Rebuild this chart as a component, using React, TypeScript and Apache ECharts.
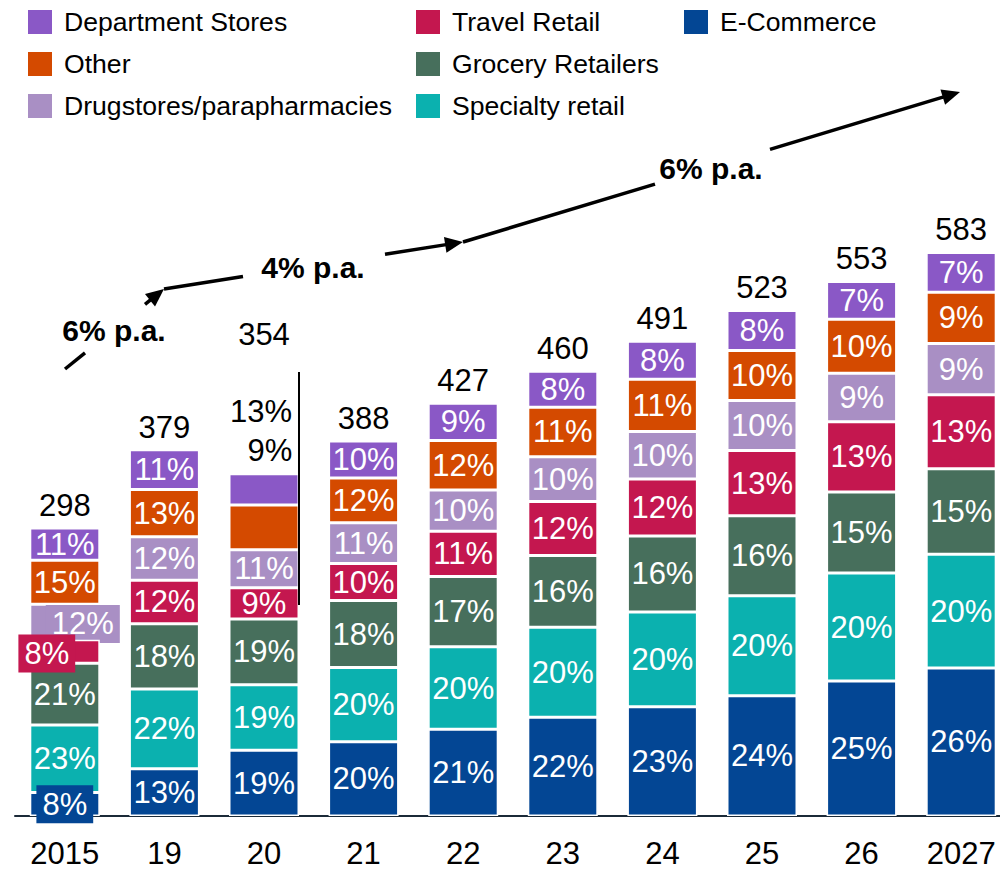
import React, { useEffect, useRef } from "react";
import * as echarts from "echarts";

const categories = ["2015", "19", "20", "21", "22", "23", "24", "25", "26", "2027"];
const totals = [298, 379, 354, 388, 427, 460, 491, 523, 553, 583];
// shares in % (bottom to top of each stack)
const eCommerce = [8, 13, 19, 20, 21, 22, 23, 24, 25, 26];
const specialty = [23, 22, 19, 20, 20, 20, 20, 20, 20, 20];
const grocery = [21, 18, 19, 18, 17, 16, 16, 16, 15, 15];
const travel = [8, 12, 9, 10, 11, 12, 12, 13, 13, 13];
const drugstores = [12, 12, 11, 11, 10, 10, 10, 10, 9, 9];
const other = [15, 13, 13, 12, 12, 11, 11, 10, 10, 9];
const department = [11, 11, 9, 10, 9, 8, 8, 8, 7, 7];

const FONT = "'Liberation Sans', Arial, Helvetica, sans-serif";

const seriesDefs = [
  { name: "E-Commerce", color: "#034694", pct: eCommerce },
  { name: "Specialty retail", color: "#0bb1af", pct: specialty },
  { name: "Grocery Retailers", color: "#476f5c", pct: grocery },
  { name: "Travel Retail", color: "#c4174f", pct: travel },
  { name: "Drugstores/parapharmacies", color: "#a98fc4", pct: drugstores },
  { name: "Other", color: "#d44a00", pct: other },
  { name: "Department Stores", color: "#8a58c6", pct: department },
];

const sumPct = categories.map((_, j) => seriesDefs.reduce((s, d) => s + d.pct[j], 0));

// annotation layout
const arrows = [
  { from: [65, 369], to: [164, 289], gap: [85, 145], text: "6% p.a.", at: [114, 330] },
  { from: [164, 289], to: [463, 242], gap: [243, 385], text: "4% p.a.", at: [313, 267] },
  { from: [463, 242], to: [960, 92], gap: [655, 770], text: "6% p.a.", at: [711, 168] },
];

function labelOverride(name: string, j: number, color: string): any {
  const box = { backgroundColor: color, padding: [3, 6, 4, 6] };
  if (j === 0 && name === "E-Commerce") return { ...box, offset: [0, 0] };
  if (j === 0 && name === "Travel Retail") return { ...box, offset: [-18, 2] };
  if (j === 0 && name === "Drugstores/parapharmacies") return { ...box, offset: [18, 2] };
  if (j === 2 && name === "Other") return { position: "top", color: "#000", offset: [-3, -73] };
  if (j === 2 && name === "Department Stores") return { position: "top", color: "#000", offset: [6, -3] };
  return null;
}

function buildGraphics(): any[] {
  const els: any[] = [];
  const ls = { stroke: "#000", lineWidth: 3.5 };
  arrows.forEach((a) => {
    const [x1, y1] = a.from;
    const [x2, y2] = a.to;
    const yAt = (x: number) => y1 + ((x - x1) / (x2 - x1)) * (y2 - y1);
    const dx = x2 - x1;
    const dy = y2 - y1;
    const L = Math.sqrt(dx * dx + dy * dy);
    const ux = dx / L;
    const uy = dy / L;
    const hl = 18;
    const hw = 8;
    const bx = x2 - ux * hl;
    const by = y2 - uy * hl;
    els.push({ type: "line", z: 100, shape: { x1, y1, x2: a.gap[0], y2: yAt(a.gap[0]) }, style: ls });
    els.push({ type: "line", z: 100, shape: { x1: a.gap[1], y1: yAt(a.gap[1]), x2: bx + ux, y2: by + uy }, style: ls });
    els.push({
      type: "polygon",
      z: 100,
      shape: {
        points: [
          [x2, y2],
          [bx - uy * hw, by + ux * hw],
          [bx + uy * hw, by - ux * hw],
        ],
      },
      style: { fill: "#000" },
    });
    els.push({
      type: "text",
      z: 100,
      x: a.at[0],
      y: a.at[1],
      style: {
        text: a.text,
        font: `bold 30px ${FONT}`,
        fill: "#000",
        align: "center",
        verticalAlign: "middle",
      },
    });
  });
  els.push({
    type: "line",
    z: 100,
    shape: { x1: 299, y1: 372, x2: 299, y2: 605 },
    style: { stroke: "#000", lineWidth: 2 },
  });
  return els;
}

export default function App() {
  const ref = useRef<HTMLDivElement>(null);
  useEffect(() => {
    if (!ref.current) return;
    const chart = echarts.init(ref.current, undefined, { renderer: "svg" });

    const stackSeries = seriesDefs.map((d) => ({
      name: d.name,
      type: "bar",
      stack: "total",
      barWidth: 70,
      barGap: "-100%",
      z: d.name === "Travel Retail" ? 4 : 2,
      itemStyle: { color: d.color, borderColor: "#fff", borderWidth: 1.5 },
      label: {
        show: true,
        position: "inside",
        color: "#fff",
        fontSize: 31,
        fontFamily: FONT,
        formatter: (p: any) => `${d.pct[p.dataIndex]}%`,
      },
      data: categories.map((_, j) => {
        const item: any = { value: (totals[j] * d.pct[j]) / sumPct[j] };
        const o = labelOverride(d.name, j, d.color);
        if (o) item.label = o;
        return item;
      }),
    }));

    const totalSeries = {
      name: "Total",
      type: "bar",
      barWidth: 70,
      barGap: "-100%",
      z: 1,
      silent: true,
      itemStyle: { color: "rgba(0,0,0,0)" },
      label: {
        show: true,
        position: "top",
        distance: 7,
        color: "#000",
        fontSize: 31,
        fontFamily: FONT,
      },
      data: totals.map((t, j) => (j === 2 ? { value: t, label: { offset: [0, -117] } } : t)),
    };

    const legendBase = {
      orient: "vertical",
      top: 8,
      padding: 0,
      itemGap: 14,
      itemWidth: 26,
      itemHeight: 26,
      icon: "rect",
      selectedMode: false,
      textStyle: { fontSize: 26.6, color: "#000", fontFamily: FONT, padding: [0, 0, 0, 6] },
    };

    chart.setOption({
      animation: false,
      backgroundColor: "#fff",
      legend: [
        { ...legendBase, left: 26, data: ["Department Stores", "Other", "Drugstores/parapharmacies"] },
        { ...legendBase, left: 414, data: ["Travel Retail", "Grocery Retailers", "Specialty retail"] },
        { ...legendBase, left: 682, data: ["E-Commerce"] },
      ],
      grid: { left: 15, width: 996, top: 236, bottom: 54, containLabel: false, outerBoundsMode: "none" },
      xAxis: {
        type: "category",
        data: categories,
        axisTick: { show: false },
        axisLine: { lineStyle: { color: "#1b2a38", width: 2 } },
        axisLabel: { fontSize: 31, color: "#000", margin: 22, fontFamily: FONT },
      },
      yAxis: { type: "value", min: 0, max: 600, show: false, splitLine: { show: false } },
      series: [...stackSeries, totalSeries],
      graphic: buildGraphics(),
    });

    return () => chart.dispose();
  }, []);

  return (
    <div
      ref={ref}
      style={{ position: "absolute", left: 0, top: 0, width: 1000, height: 870 }}
    />
  );
}
